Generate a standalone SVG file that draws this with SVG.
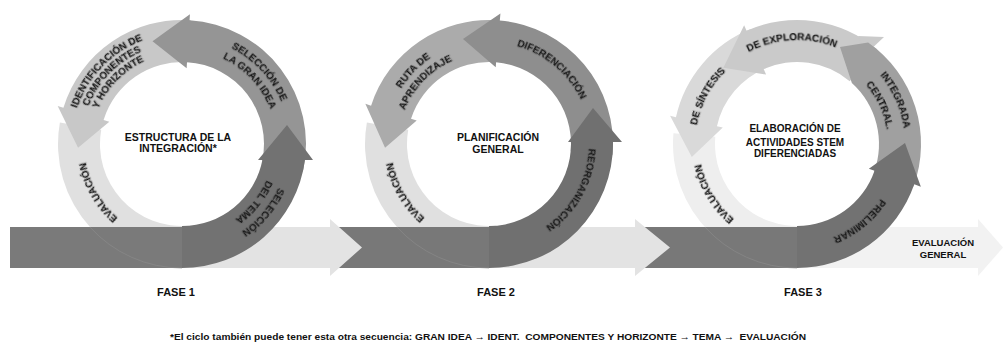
<svg xmlns="http://www.w3.org/2000/svg" width="1003" height="352" viewBox="0 0 1003 352">
<style>
.rl{font-family:"Liberation Sans",Arial,sans-serif;font-weight:bold;font-size:10px;fill:#151515;text-anchor:middle;filter:url(#sh)}
.ct{font-family:"Liberation Sans",Arial,sans-serif;font-weight:bold;font-size:10.5px;fill:#111;text-anchor:middle}
.c3{font-size:10px}
.eg{font-size:9.5px}
.fs{font-family:"Liberation Sans",Arial,sans-serif;font-weight:bold;font-size:11px;fill:#111;text-anchor:middle}
.fn{font-family:"Liberation Sans",Arial,sans-serif;font-weight:bold;font-size:9.5px;fill:#111;white-space:pre}
.seam{fill:none;stroke:#8a8a8a;stroke-width:0.7}
</style>
<defs>
<filter id="sh" x="-20%" y="-20%" width="140%" height="140%">
<feDropShadow dx="0.6" dy="0.6" stdDeviation="0.6" flood-color="#444" flood-opacity="0.45"/>
</filter>
<path id="r91" d="M -85.51 -31.12 A 91 91 0 0 1 85.51 -31.12"/>
<path id="r92" d="M -86.45 -31.46 A 92 92 0 0 1 86.45 -31.46"/>
<path id="r95" d="M -89.27 -32.49 A 95 95 0 0 1 89.27 -32.49"/>
<path id="r98" d="M -92.09 -33.52 A 98 98 0 0 1 92.09 -33.52"/>
<path id="r100" d="M -93.97 -34.20 A 100 100 0 0 1 93.97 -34.20"/>
<path id="r101" d="M -94.91 -34.54 A 101 101 0 0 1 94.91 -34.54"/>
<path id="r102" d="M -95.85 -34.88 A 102 102 0 0 1 95.85 -34.88"/>
<path id="r104" d="M -97.73 -35.57 A 104 104 0 0 1 97.73 -35.57"/>
<path id="r106" d="M -99.61 -36.25 A 106 106 0 0 1 99.61 -36.25"/>
<path id="r108" d="M -101.49 -36.94 A 108 108 0 0 1 101.49 -36.94"/>
<path id="r111" d="M -104.31 -37.96 A 111 111 0 0 1 104.31 -37.96"/>
</defs>
<rect width="1003" height="352" fill="#ffffff"/>

<g id="fase1-ciclo">
<path fill="#e0e0e0" d="M 59.88 122.47 A 124 124 0 0 0 192.81 267.53 L 189.15 225.69 A 82 82 0 0 1 101.24 129.76 Z"/>
<path fill="#c8c8c8" d="M 190.65 20.30 A 124 124 0 0 0 63.42 107.74 L 57.68 105.99 L 78.06 147.63 L 109.32 121.78 L 103.58 120.02 A 82 82 0 0 1 187.72 62.20 Z"/>
<path fill="#959595" d="M 303.29 169.78 A 124 124 0 0 0 189.57 20.23 L 189.93 14.24 L 152.51 41.14 L 186.64 68.14 L 187.00 62.16 A 82 82 0 0 1 262.20 161.05 Z"/>
<text class="rl" transform="translate(182,144) rotate(-46)"><textPath href="#r111" startOffset="50%">IDENTIFICACIÓN DE</textPath></text>
<text class="rl" transform="translate(182,144) rotate(-46)"><textPath href="#r101" startOffset="50%">COMPONENTES</textPath></text>
<text class="rl" transform="translate(182,144) rotate(-46)"><textPath href="#r91" startOffset="50%">Y HORIZONTE</textPath></text>
<text class="rl" transform="translate(182,144) rotate(47)"><textPath href="#r108" startOffset="50%">SELECCIÓN DE</textPath></text>
<text class="rl" transform="translate(182,144) rotate(47)"><textPath href="#r95" startOffset="50%">LA GRAN IDEA</textPath></text>
<text class="rl" transform="translate(182,144) rotate(-120)"><textPath href="#r98" startOffset="50%">EVALUACIÓN</textPath></text>
</g>

<g id="fase2-ciclo">
<path fill="#e0e0e0" d="M 366.88 122.47 A 124 124 0 0 0 499.81 267.53 L 496.15 225.69 A 82 82 0 0 1 408.24 129.76 Z"/>
<path fill="#ababab" d="M 497.65 20.30 A 124 124 0 0 0 371.07 105.68 L 365.36 103.83 L 385.06 147.63 L 416.72 120.52 L 411.01 118.66 A 82 82 0 0 1 494.72 62.20 Z"/>
<path fill="#8e8e8e" d="M 612.53 154.81 A 124 124 0 0 0 499.81 20.47 L 500.42 13.50 L 463 39 L 495.71 67.29 L 496.15 62.31 A 82 82 0 0 1 570.69 151.15 Z"/>
<text class="rl" transform="translate(489,144) rotate(-46)"><textPath href="#r104" startOffset="50%">RUTA DE</textPath></text>
<text class="rl" transform="translate(489,144) rotate(-46)"><textPath href="#r91" startOffset="50%">APRENDIZAJE</textPath></text>
<text class="rl" transform="translate(489,144) rotate(40)"><textPath href="#r102" startOffset="50%">DIFERENCIACIÓN</textPath></text>
<text class="rl" transform="translate(489,144) rotate(-120)"><textPath href="#r98" startOffset="50%">EVALUACIÓN</textPath></text>
</g>

<g id="fase3-ciclo">
<path fill="#eeeeee" d="M 673.47 133.19 A 124 124 0 0 0 807.81 267.53 L 804.15 225.69 A 82 82 0 0 1 715.31 136.85 Z"/>
<path fill="#d9d9d9" d="M 750.55 29.03 A 124 124 0 0 0 675.94 117.17 L 670.08 115.87 L 691.79 156.92 L 722.80 127.55 L 716.94 126.26 A 82 82 0 0 1 766.28 67.97 Z"/>
<path fill="#cacaca" d="M 876.71 49.02 A 124 124 0 0 0 746.57 30.72 L 744.13 25.24 L 723.36 67.75 L 766.09 74.57 L 763.65 69.09 A 82 82 0 0 1 849.71 81.19 Z"/>
<polygon fill="#cacaca" points="858,36 884,37 866,54"/>
<path fill="#a0a0a0" d="M 851.87 83.06 L 840 47 L 868.12 42.42 A 124 124 0 0 1 913.52 186.41 L 874.06 172.05 A 82 82 0 0 0 851.87 83.06 Z"/>
<text class="rl" transform="translate(797,144) rotate(-62)"><textPath href="#r102" startOffset="50%">DE SÍNTESIS</textPath></text>
<text class="rl" transform="translate(797,144) rotate(-3)"><textPath href="#r104" startOffset="50%">DE EXPLORACIÓN</textPath></text>
<text class="rl" transform="translate(797,144) rotate(66)"><textPath href="#r108" startOffset="50%">INTEGRADA</textPath></text>
<text class="rl" transform="translate(797,144) rotate(65)"><textPath href="#r91" startOffset="50%">CENTRAL.</textPath></text>
<text class="rl" transform="translate(797,144) rotate(-121)"><textPath href="#r98" startOffset="50%">EVALUACIÓN</textPath></text>
</g>

<g id="connectors">
<rect x="10" y="227" width="172" height="41" fill="#7a7a7a"/>
<rect x="333" y="227" width="156" height="41" fill="#787878"/>
<rect x="640" y="227" width="157" height="41" fill="#787878"/>
<path class="seam" d="M 89.9 227 A 124 124 0 0 0 182 268"/>
<path class="seam" d="M 396.9 227 A 124 124 0 0 0 489 268"/>
<path class="seam" d="M 704.9 227 A 124 124 0 0 0 797 268"/>
<path fill="#e3e3e3" d="M 182 227 H 330 V 219 L 362 247.5 L 330 276 V 268 H 182 Z"/>
<path fill="#e3e3e3" d="M 489 227 H 635 V 219 L 670 247.5 L 635 276 V 268 H 489 Z"/>
<path fill="#f2f2f2" d="M 797 227 H 978 V 219 L 1003 247.5 L 978 276 V 268 H 797 Z"/>
<text class="ct eg" x="943" y="245.5">EVALUACIÓN</text>
<text class="ct eg" x="943" y="258">GENERAL</text>
</g>

<g id="fase1-tema">
<path fill="#727272" d="M 182 268 A 124 124 0 0 0 304.96 160 L 313 160 L 287 125 L 258 160 L 262.42 160 A 82 82 0 0 1 182 226 Z"/>
<text class="rl" transform="translate(182,144) rotate(130)"><textPath href="#r106" startOffset="50%">SELECCIÓN</textPath></text>
<text class="rl" transform="translate(182,144) rotate(129)"><textPath href="#r92" startOffset="50%">DEL TEMA</textPath></text>
</g>

<g id="fase2-reorganizacion">
<path fill="#707070" d="M 489 268 A 124 124 0 0 0 612.98 142 L 622 142 L 593 108 L 568 142 L 570.98 142 A 82 82 0 0 1 489 226 Z"/>
<text class="rl" transform="translate(489,144) rotate(119)"><textPath href="#r100" startOffset="50%">REORGANIZACIÓN</textPath></text>
</g>

<g id="fase3-preliminar">
<path fill="#727272" d="M 797 268 A 124 124 0 0 0 914.24 184.37 L 920.86 186.65 L 905 143.06 L 868.86 168.74 L 874.53 170.70 A 82 82 0 0 1 797 226 Z"/>
<text class="rl" transform="translate(797,144) rotate(141)"><textPath href="#r100" startOffset="50%">PRELIMINAR</textPath></text>
</g>

<g id="fase1-centro">
<text class="ct" x="178" y="140.5">ESTRUCTURA DE LA</text>
<text class="ct" x="178" y="151.5">INTEGRACIÓN*</text>
<text class="fs" x="176" y="296">FASE 1</text>
</g>
<g id="fase2-centro">
<text class="ct" x="498" y="140.5">PLANIFICACIÓN</text>
<text class="ct" x="498" y="153">GENERAL</text>
<text class="fs" x="496" y="296">FASE 2</text>
</g>
<g id="fase3-centro">
<text class="ct c3" x="795" y="132">ELABORACIÓN DE</text>
<text class="ct c3" x="795" y="145.5">ACTIVIDADES STEM</text>
<text class="ct c3" x="795" y="157">DIFERENCIADAS</text>
<text class="fs" x="803" y="296">FASE 3</text>
</g>

<g id="nota">
<text class="fn" x="170" y="340" textLength="636" lengthAdjust="spacingAndGlyphs">*El ciclo también puede tener esta otra secuencia: GRAN IDEA → IDENT.  COMPONENTES Y HORIZONTE → TEMA →  EVALUACIÓN</text>
</g>
</svg>
